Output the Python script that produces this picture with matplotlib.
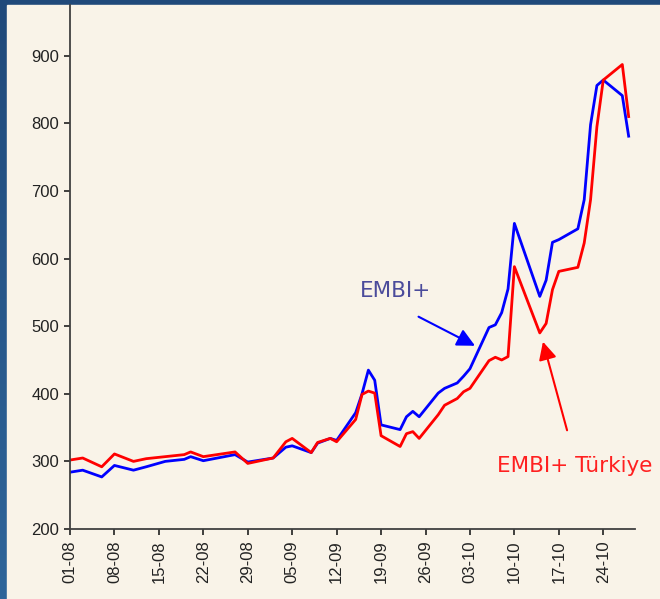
import matplotlib
matplotlib.use('Agg')
import matplotlib.pyplot as plt
import numpy as np
import pandas as pd
from matplotlib.patches import Rectangle

# EMBI+ vs EMBI+ Turkey spreads, Aug-Oct 2008
dates = ['2008-08-01', '2008-08-03', '2008-08-06', '2008-08-08', '2008-08-11',
         '2008-08-13', '2008-08-16', '2008-08-19', '2008-08-20', '2008-08-22',
         '2008-08-27', '2008-08-29', '2008-09-02', '2008-09-04', '2008-09-05',
         '2008-09-08', '2008-09-09', '2008-09-11', '2008-09-12', '2008-09-15',
         '2008-09-16', '2008-09-17', '2008-09-18', '2008-09-19', '2008-09-22',
         '2008-09-23', '2008-09-24', '2008-09-25', '2008-09-28', '2008-09-29',
         '2008-10-01', '2008-10-02', '2008-10-03', '2008-10-06', '2008-10-07',
         '2008-10-08', '2008-10-09', '2008-10-10', '2008-10-14', '2008-10-15',
         '2008-10-16', '2008-10-17', '2008-10-20', '2008-10-21', '2008-10-22',
         '2008-10-23', '2008-10-24', '2008-10-27', '2008-10-28']
embi = [284, 287, 277, 294, 287, 292, 300, 303, 307, 301,
        310, 299, 305, 321, 323, 313, 327, 334, 331, 372,
        400, 435, 420, 354, 347, 366, 374, 366, 401, 408,
        416, 426, 437, 498, 502, 520, 555, 652, 544, 568,
        624, 628, 644, 687, 798, 856, 864, 841, 781]
embi_tr = [302, 305, 292, 311, 300, 304, 307, 310, 314, 307,
           314, 297, 305, 329, 334, 313, 328, 334, 329, 362,
           399, 404, 401, 338, 322, 341, 344, 334, 369, 383,
           393, 403, 408, 449, 454, 450, 455, 588, 490, 504,
           554, 581, 587, 623, 687, 795, 864, 887, 810]

tick_dates = ['2008-08-01', '2008-08-08', '2008-08-15', '2008-08-22', '2008-08-29',
              '2008-09-05', '2008-09-12', '2008-09-19', '2008-09-26', '2008-10-03',
              '2008-10-10', '2008-10-17', '2008-10-24']
tick_labels = ['01-08', '08-08', '15-08', '22-08', '29-08', '05-09', '12-09',
               '19-09', '26-09', '03-10', '10-10', '17-10', '24-10']
y_ticks = [200, 300, 400, 500, 600, 700, 800, 900]

x = pd.to_datetime(dates)
t0 = pd.Timestamp('2008-08-01')


def day(d):
    return t0 + pd.Timedelta(days=d)


fig = plt.figure(figsize=(6.6, 5.99), dpi=100)

# blue gradient border behind a cream panel
bg = fig.add_axes([0, 0, 1, 1], zorder=-2)
grad = np.linspace(0, 1, 256).reshape(-1, 1)
bg.imshow(grad, aspect='auto', extent=[0, 1, 0, 1],
          cmap=matplotlib.colors.LinearSegmentedColormap.from_list(
              'b', ['#20497a', '#2f659a']))
bg.set_axis_off()
fig.patches.append(Rectangle((7 / 660, 0), 1, (599 - 5) / 599,
                             transform=fig.transFigure, color='#f9f3e8',
                             zorder=-1))

ax = fig.add_axes([70 / 660, 70 / 599, 565 / 660, 524 / 599])
ax.set_facecolor('none')

ax.plot(x, embi, color='#0000ff', lw=2.0)
ax.plot(x, embi_tr, color='#ff0000', lw=2.0)

ax.set_xlim(day(0), day(89))
ax.set_ylim(200, 975)
ax.set_yticks(y_ticks)
ax.set_xticks(pd.to_datetime(tick_dates))
ax.set_xticklabels(tick_labels, rotation=90)

for s in ['top', 'right']:
    ax.spines[s].set_visible(False)
for s in ['left', 'bottom']:
    ax.spines[s].set_color('#404040')
    ax.spines[s].set_linewidth(1.3)
ax.tick_params(length=4, width=1.2, color='#202020', labelsize=12,
               labelcolor='#222222', pad=4)
for lab in ax.get_xticklabels() + ax.get_yticklabels():
    lab.set_family('Liberation Sans')

ax.text(day(45.7), 543, 'EMBI+', color='#4b4b9b', fontsize=15.5,
        ha='left', va='baseline')
ax.annotate('', xy=(day(63.8), 471), xytext=(day(54.9), 514),
            arrowprops=dict(arrowstyle='-|>,head_length=0.6,head_width=0.3',
                            color='#0000ff', lw=1.5, mutation_scale=18,
                            shrinkA=0, shrinkB=0))
ax.text(day(67.2), 284, 'EMBI+ Türkiye', color='#ff2020', fontsize=15.5,
        ha='left', va='baseline')
ax.annotate('', xy=(day(74.5), 477), xytext=(day(78.3), 346),
            arrowprops=dict(arrowstyle='-|>,head_length=0.6,head_width=0.3',
                            color='#ff0000', lw=1.5, mutation_scale=18,
                            shrinkA=0, shrinkB=0))

fig.savefig('out.png', dpi=100)
